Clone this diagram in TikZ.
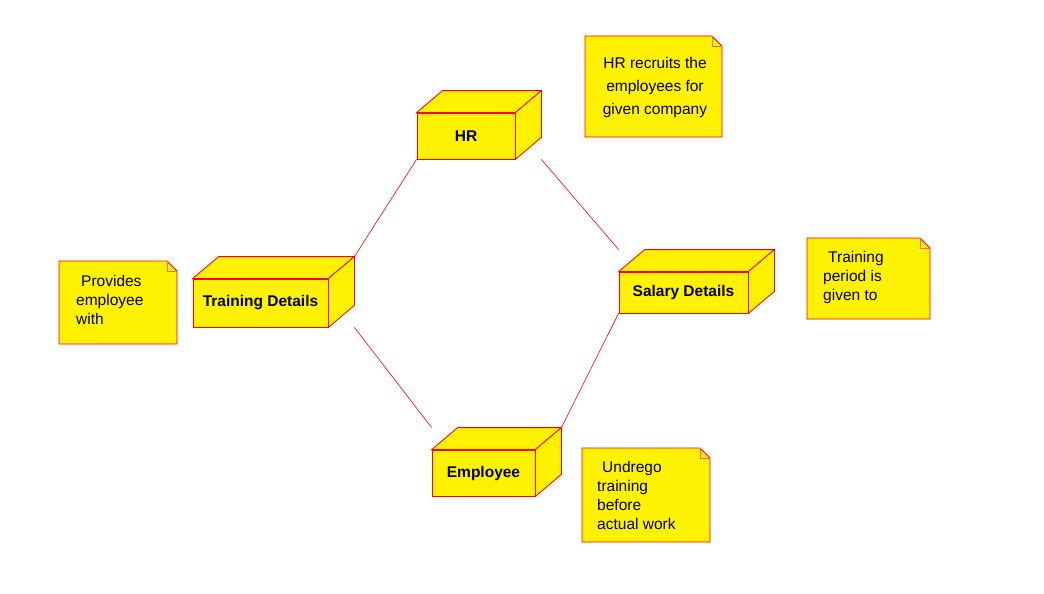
\documentclass[tikz,border=0pt]{standalone}
\usepackage{fontspec}
\setmainfont{Liberation Sans}
\usetikzlibrary{calc,positioning}

\tikzset{
  cube/.style={rectangle, draw=red, fill=yellow, line width=0.8pt, inner sep=0pt,
    font=\bfseries\fontsize{15.5}{18}\selectfont},
  cubeside/.style={draw=red, fill=yellow, line width=0.8pt, line join=miter},
  note/.style={rectangle, inner sep=0pt, outer sep=0pt},
  notetxt/.style={anchor=north west, inner sep=0pt, align=left,
    font=\fontsize{15.5}{19}\selectfont},
  link/.style={draw=red, line width=0.6pt},
}

% top and right faces of a node drawn as a box
\newcommand{\cubedepth}[1]{%
  \filldraw[cubeside] (#1.north west) -- ++(26,-22) -- ($(#1.north east)+(26,-22)$) -- (#1.north east) -- cycle;
  \filldraw[cubeside] (#1.north east) -- ($(#1.north east)+(26,-22)$) -- ($(#1.south east)+(26,-22)$) -- (#1.south east) -- cycle;
}
% note sheet with folded corner
\newcommand{\notefold}[1]{%
  \filldraw[cubeside] (#1.south west) -- (#1.north west) -- ($(#1.north east)+(-10,0)$) -- ($(#1.north east)+(0,10)$) -- (#1.south east) -- cycle;
  \draw[red!60, line width=0.4pt] ($(#1.north east)+(-10,0)$) -- ($(#1.north east)+(-10,10)$) -- ($(#1.north east)+(0,10)$);
}

\begin{document}
\begin{tikzpicture}[x=1pt, y=-1pt]
\fill[white] (0,0) rectangle (1044,594);
\useasboundingbox (0,0) rectangle (1044,594);

% boxes
\node[cube, minimum width=98pt, minimum height=46pt] (hr) at (466,136) {HR};
\cubedepth{hr}
\node[cube, minimum width=135pt, minimum height=48pt] (train) at (260.5,303) {Training Details};
\cubedepth{train}
\node[cube, minimum width=129pt, minimum height=41pt] (salary) at (683.5,292.5) {Salary Details};
\cubedepth{salary}
\node[cube, minimum width=103pt, minimum height=46pt] (emp) at (483.5,473) {Employee};
\cubedepth{emp}

% links
\draw[link] (hr.south west) -- ($(train.north east)+(26,-22)$);
\draw[link] ($(hr.south east)+(26,0)$) -- ($(salary.north west)+(0,-22)$);
\draw[link] ($(train.south east)+(26,0)$) -- ($(emp.north west)+(0,-22)$);
\draw[link] (salary.south west) -- ($(emp.north east)+(26,-22)$);

% notes
\node[note, minimum width=137pt, minimum height=101pt] (hrnote) at (653.5,86.5) {};
\notefold{hrnote}
\node[notetxt, anchor=north, align=center] (hrnotetxt) at (655,57)
  {HR recruits the\\[4pt]employees for\\[4pt]given company};

\node[note, minimum width=118pt, minimum height=83pt] (provnote) at (118,302.5) {};
\notefold{provnote}
\node[notetxt] (provtxt) at (76,275) {\hspace*{5pt}Provides\\employee\\with};

\node[note, minimum width=123pt, minimum height=81pt] (periodnote) at (868.5,278.5) {};
\notefold{periodnote}
\node[notetxt] (periodtxt) at (823,251) {\hspace*{5pt}Training\\period is\\given to};

\node[note, minimum width=128pt, minimum height=94pt] (workwnote) at (646,495) {};
\notefold{workwnote}
\node[notetxt] (worktxt) at (597,461) {\hspace*{5pt}Undrego\\training\\before\\actual work};
\end{tikzpicture}
\end{document}
